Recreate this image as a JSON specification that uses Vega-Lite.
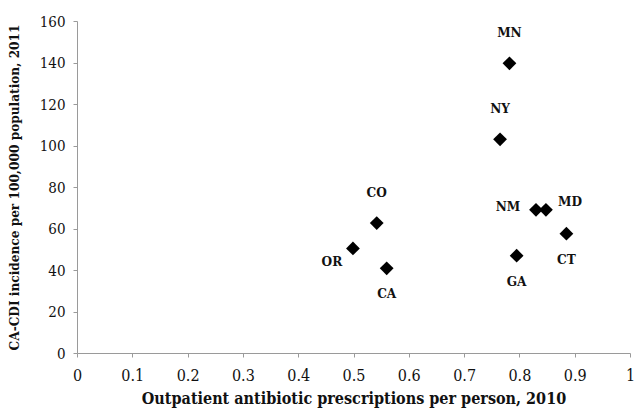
{
  "$schema": "https://vega.github.io/schema/vega-lite/v6.json",
  "width": 553,
  "height": 332,
  "autosize": {"type": "none"},
  "padding": {"left": 77, "top": 21, "right": 4, "bottom": 59},
  "background": "white",
  "config": {
    "view": {"stroke": null},
    "font": "DejaVu Serif Condensed",
    "axis": {
      "grid": false,
      "domainColor": "#9a9a9a",
      "tickColor": "#9a9a9a",
      "tickSize": 4,
      "labelFont": "DejaVu Serif Condensed",
      "labelFontSize": 15,
      "labelColor": "#111",
      "titleFont": "DejaVu Serif Condensed",
      "titleFontSize": 14,
      "titleFontWeight": "bold",
      "titleColor": "#111"
    }
  },
  "data": {
    "values": [
      {"state": "MN", "rx": 0.782, "cdi": 139.6, "pos": "above"},
      {"state": "NY", "rx": 0.765, "cdi": 103.0, "pos": "above"},
      {"state": "CO", "rx": 0.542, "cdi": 62.6, "pos": "above"},
      {"state": "NM", "rx": 0.830, "cdi": 69.0, "pos": "left"},
      {"state": "MD", "rx": 0.848, "cdi": 69.0, "pos": "right"},
      {"state": "CT", "rx": 0.885, "cdi": 57.5, "pos": "below"},
      {"state": "GA", "rx": 0.795, "cdi": 46.9, "pos": "below"},
      {"state": "OR", "rx": 0.499, "cdi": 50.4, "pos": "lowerleft"},
      {"state": "CA", "rx": 0.560, "cdi": 40.8, "pos": "below"}
    ]
  },
  "encoding": {
    "x": {
      "field": "rx",
      "type": "quantitative",
      "scale": {"domain": [0, 1], "nice": false},
      "axis": {
        "title": "Outpatient antibiotic prescriptions per person, 2010",
        "titleFontSize": 16,
        "labelFontSize": 16,
        "values": [0, 0.1, 0.2, 0.3, 0.4, 0.5, 0.6, 0.7, 0.8, 0.9, 1],
        "format": ".1~f",
        "labelPadding": 10,
        "titlePadding": 7,
        "labelFlush": false
      }
    },
    "y": {
      "field": "cdi",
      "type": "quantitative",
      "scale": {"domain": [0, 160], "nice": false},
      "axis": {
        "title": "CA-CDI incidence per 100,000 population, 2011",
        "titleFontSize": 13.5,
        "values": [0, 20, 40, 60, 80, 100, 120, 140, 160],
        "labelPadding": 8,
        "titlePadding": 18,
        "labelFlush": false
      }
    }
  },
  "layer": [
    {
      "mark": {"type": "point", "shape": "diamond", "filled": true, "color": "#000", "size": 190, "opacity": 1}
    },
    {
      "transform": [{"filter": "datum.pos === 'above'"}],
      "mark": {"type": "text", "dy": -30, "fontSize": 13.5, "fontWeight": "bold", "color": "#111"},
      "encoding": {"text": {"field": "state"}}
    },
    {
      "transform": [{"filter": "datum.pos === 'below'"}],
      "mark": {"type": "text", "dy": 26, "fontSize": 13.5, "fontWeight": "bold", "color": "#111"},
      "encoding": {"text": {"field": "state"}}
    },
    {
      "transform": [{"filter": "datum.pos === 'left'"}],
      "mark": {"type": "text", "dx": -28, "dy": -3, "fontSize": 13.5, "fontWeight": "bold", "color": "#111"},
      "encoding": {"text": {"field": "state"}}
    },
    {
      "transform": [{"filter": "datum.pos === 'right'"}],
      "mark": {"type": "text", "dx": 24, "dy": -8, "fontSize": 13.5, "fontWeight": "bold", "color": "#111"},
      "encoding": {"text": {"field": "state"}}
    },
    {
      "transform": [{"filter": "datum.pos === 'lowerleft'"}],
      "mark": {"type": "text", "dx": -21, "dy": 14, "fontSize": 13.5, "fontWeight": "bold", "color": "#111"},
      "encoding": {"text": {"field": "state"}}
    }
  ]
}
